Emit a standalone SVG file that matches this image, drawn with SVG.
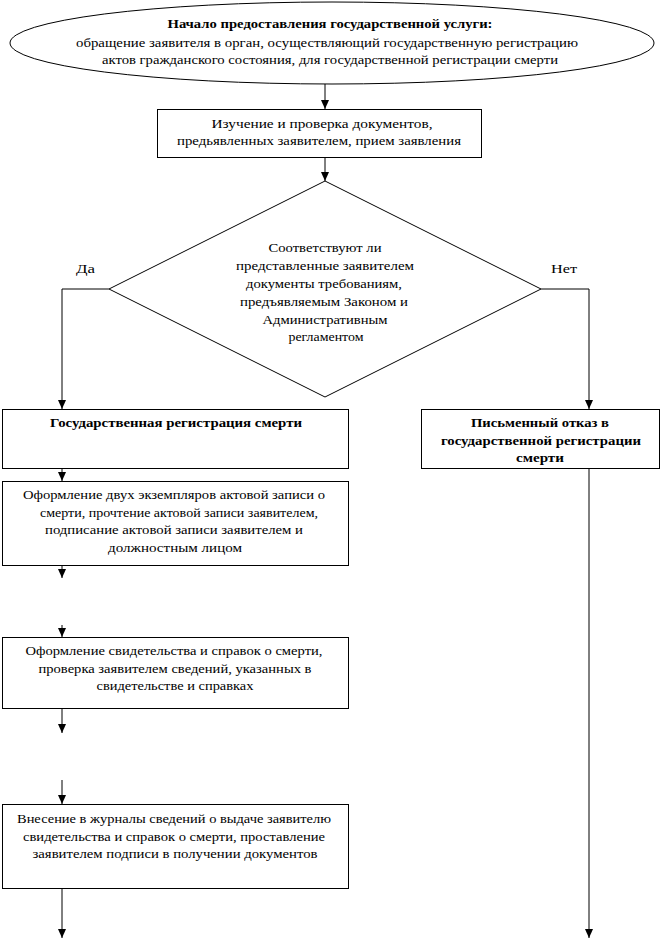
<svg xmlns="http://www.w3.org/2000/svg" width="662" height="950" viewBox="0 0 662 950">
<style>
.s{fill:#fff;stroke:#000;stroke-width:1}
.t{font-family:'Liberation Serif','Times New Roman',Times,serif;font-size:13px;fill:#000;text-anchor:middle}
.b{font-weight:bold}
.c{fill:none;stroke:#000;stroke-width:1}
</style>
<defs>
<marker id="ah" markerWidth="9" markerHeight="8" refX="9" refY="4" orient="auto" markerUnits="userSpaceOnUse" viewBox="0 0 9 8">
<path d="M0,0 L9,4 L0,8 Z" fill="#000"/>
</marker>
</defs>
<rect width="662" height="950" fill="#fff"/>
<g id="connectors">
<line class="c" x1="325" y1="84" x2="325" y2="109" marker-end="url(#ah)"/>
<line class="c" x1="325" y1="157" x2="325" y2="181" marker-end="url(#ah)"/>
<polyline class="c" points="109,289 62,289 62,409" marker-end="url(#ah)"/>
<polyline class="c" points="541,289 589,289 589,409" marker-end="url(#ah)"/>
<line class="c" x1="62" y1="469" x2="62" y2="481" marker-end="url(#ah)"/>
<line class="c" x1="62" y1="566" x2="62" y2="578" marker-end="url(#ah)"/>
<line class="c" x1="62" y1="625" x2="62" y2="637" marker-end="url(#ah)"/>
<line class="c" x1="62" y1="709" x2="62" y2="733" marker-end="url(#ah)"/>
<line class="c" x1="62" y1="780" x2="62" y2="804" marker-end="url(#ah)"/>
<line class="c" x1="62" y1="889" x2="62" y2="938" marker-end="url(#ah)"/>
<line class="c" x1="589" y1="469" x2="589" y2="938" marker-end="url(#ah)"/>
</g>
<g id="start">
<ellipse class="s" cx="332" cy="43" rx="322" ry="41"/>
<text class="t b" x="330" y="28" textLength="325" lengthAdjust="spacingAndGlyphs">Начало предоставления государственной услуги:</text>
<text class="t" x="327" y="47" textLength="502" lengthAdjust="spacingAndGlyphs">обращение заявителя в  орган, осуществляющий государственную регистрацию</text>
<text class="t" x="330" y="64" textLength="456" lengthAdjust="spacingAndGlyphs">актов гражданского состояния, для государственной регистрации смерти</text>
</g>
<g id="check">
<rect class="s" x="157.5" y="109.5" width="324" height="48"/>
<text class="t" x="322" y="128" textLength="221" lengthAdjust="spacingAndGlyphs">Изучение и проверка документов,</text>
<text class="t" x="319" y="145" textLength="284" lengthAdjust="spacingAndGlyphs">предьявленных заявителем, прием заявления</text>
</g>
<g id="decision">
<polygon class="s" points="325,181 541,289 325,397 109,289"/>
<text class="t" x="325" y="252" textLength="113" lengthAdjust="spacingAndGlyphs">Соответствуют ли</text>
<text class="t" x="325" y="270" textLength="178" lengthAdjust="spacingAndGlyphs">представленные заявителем</text>
<text class="t" x="324" y="288" textLength="156" lengthAdjust="spacingAndGlyphs">документы требованиям,</text>
<text class="t" x="324" y="306" textLength="168" lengthAdjust="spacingAndGlyphs">предъявляемым Законом и</text>
<text class="t" x="325" y="324" textLength="125" lengthAdjust="spacingAndGlyphs">Административным</text>
<text class="t" x="326" y="341" textLength="75" lengthAdjust="spacingAndGlyphs">регламентом</text>
<text class="t" x="85.5" y="273" textLength="19" lengthAdjust="spacingAndGlyphs">Да</text>
<text class="t" x="564" y="273" textLength="26" lengthAdjust="spacingAndGlyphs">Нет</text>
</g>
<g id="registration">
<rect class="s" x="2.5" y="409.5" width="346" height="59"/>
<text class="t b" x="176" y="427" textLength="252" lengthAdjust="spacingAndGlyphs">Государственная регистрация смерти</text>
</g>
<g id="record">
<rect class="s" x="2.5" y="481.5" width="346" height="84"/>
<text class="t" x="174" y="499" textLength="302" lengthAdjust="spacingAndGlyphs">Оформление двух экземпляров актовой записи о</text>
<text class="t" x="179" y="517" textLength="278" lengthAdjust="spacingAndGlyphs">смерти, прочтение актовой записи заявителем,</text>
<text class="t" x="174" y="534" textLength="258" lengthAdjust="spacingAndGlyphs">подписание актовой записи заявителем и</text>
<text class="t" x="175" y="552" textLength="134" lengthAdjust="spacingAndGlyphs">должностным лицом</text>
</g>
<g id="certificate">
<rect class="s" x="2.5" y="637.5" width="346" height="71"/>
<text class="t" x="174" y="655" textLength="297" lengthAdjust="spacingAndGlyphs">Оформление свидетельства и справок о смерти,</text>
<text class="t" x="175" y="673" textLength="273" lengthAdjust="spacingAndGlyphs">проверка заявителем сведений, указанных в</text>
<text class="t" x="175" y="690" textLength="157" lengthAdjust="spacingAndGlyphs">свидетельстве и справках</text>
</g>
<g id="journal">
<rect class="s" x="2.5" y="804.5" width="346" height="84"/>
<text class="t" x="174" y="823" textLength="314" lengthAdjust="spacingAndGlyphs">Внесение в журналы сведений о выдаче заявителю</text>
<text class="t" x="174" y="841" textLength="302" lengthAdjust="spacingAndGlyphs">свидетельства и справок о смерти, проставление</text>
<text class="t" x="175" y="858" textLength="285" lengthAdjust="spacingAndGlyphs">заявителем подписи в получении документов</text>
</g>
<g id="refusal">
<rect class="s" x="421.5" y="409.5" width="238" height="59"/>
<text class="t b" x="540" y="427" textLength="138" lengthAdjust="spacingAndGlyphs">Письменный отказ в</text>
<text class="t b" x="541" y="445" textLength="200" lengthAdjust="spacingAndGlyphs">государственной регистрации</text>
<text class="t b" x="540" y="462" textLength="48" lengthAdjust="spacingAndGlyphs">смерти</text>
</g>
</svg>
